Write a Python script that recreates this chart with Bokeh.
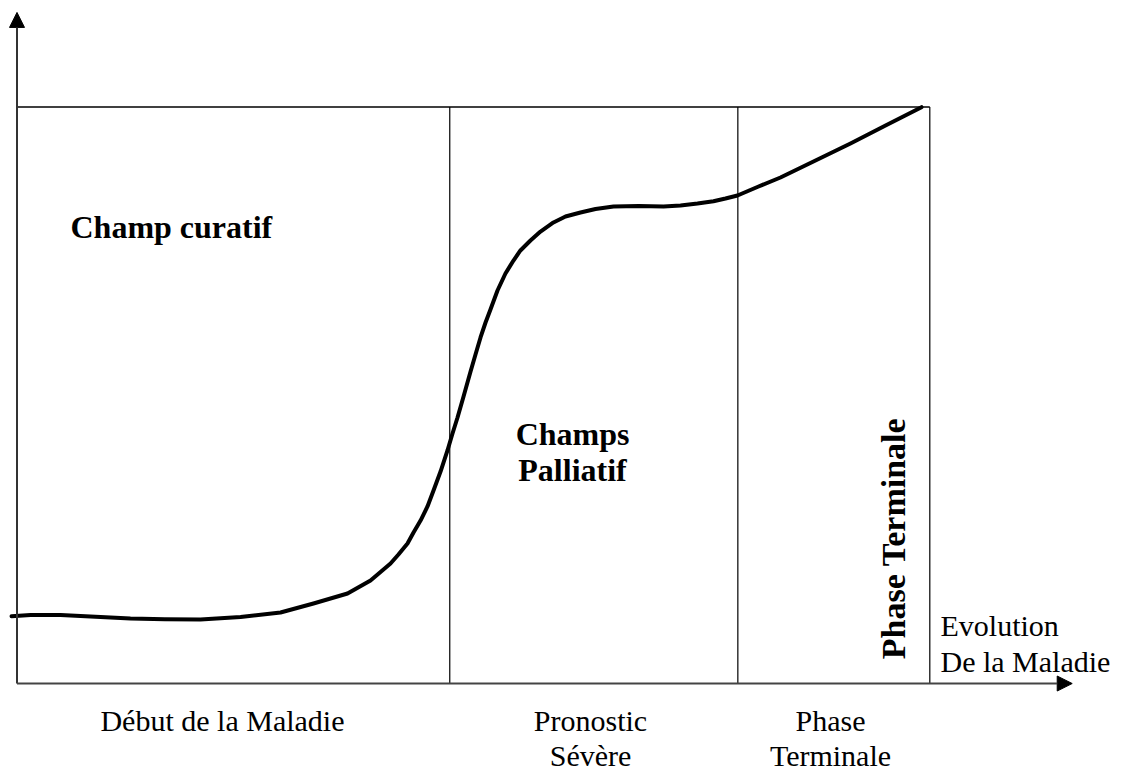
import math
from bokeh.plotting import figure
from bokeh.models import Range1d, Arrow, NormalHead, Label
from bokeh.embed import file_html
from bokeh.resources import INLINE

# ---- data (x: évolution 0..100, y: 0..100) ----
phase_bounds = [47.41, 78.97, 100.0]
box_top = 100.0

curve_x = [-0.60, 1.48, 4.77, 9.15, 12.43, 16.20, 20.10, 24.49, 28.87, 32.48, 36.21,
           38.73, 40.92, 41.79, 42.78, 43.44, 44.21, 44.97, 45.63, 46.40, 47.16,
           47.71, 48.26, 48.92, 49.68, 50.23, 50.78, 51.33, 51.87, 52.64, 53.51,
           54.39, 55.15, 56.25, 57.35, 58.77, 60.09, 61.73, 63.38, 65.35, 68.09,
           70.83, 72.69, 74.55, 76.30, 77.62, 78.93, 81.24, 83.64, 87.48, 91.31,
           95.15, 99.09]
curve_y = [11.67, 11.88, 11.88, 11.54, 11.27, 11.15, 11.10, 11.54, 12.32, 13.88, 15.61,
           17.87, 20.82, 22.38, 24.28, 26.19, 28.27, 30.71, 33.48, 36.77, 40.42,
           43.37, 46.14, 49.78, 54.08, 57.07, 60.02, 62.62, 64.87, 68.17, 71.12,
           73.37, 75.11, 76.84, 78.40, 79.97, 81.01, 81.70, 82.31, 82.74, 82.83,
           82.74, 82.91, 83.26, 83.66, 84.13, 84.65, 86.21, 87.77, 90.72, 93.67,
           96.79, 99.97]

region_labels = ["Champ curatif", "Champs", "Palliatif"]
vertical_label = "Phase Terminale"
axis_label_lines = ["Evolution", "De la Maladie"]
stage_labels = [["Début de la Maladie"], ["Pronostic", "Sévère"], ["Phase", "Terminale"]]

SERIF = "Liberation Serif"

p = figure(width=1122, height=771,
           x_range=Range1d(-1.808, 121.11), y_range=Range1d(-15.26, 118.47),
           x_axis_type=None, y_axis_type=None,
           toolbar_location=None, output_backend="svg", min_border=0)
p.outline_line_color = None
p.background_fill_color = "white"

# box: top line and phase dividers
p.segment(x0=[0], y0=[box_top], x1=[phase_bounds[-1]], y1=[box_top],
          line_color="black", line_width=1.3)
p.segment(x0=phase_bounds, y0=[0] * len(phase_bounds), x1=phase_bounds,
          y1=[box_top] * len(phase_bounds), line_color="black", line_width=1.2)

# axes with arrows
p.add_layout(Arrow(end=NormalHead(size=15, fill_color="black", line_color="black"),
                   x_start=0, y_start=0, x_end=0, y_end=116.4,
                   line_color="#333333", line_width=2))
p.add_layout(Arrow(end=NormalHead(size=15, fill_color="black", line_color="black"),
                   x_start=0, y_start=0, x_end=115.6, y_end=0,
                   line_color="#444444", line_width=2))

# curve
p.line(curve_x, curve_y, line_color="black", line_width=4, line_join="round",
       line_cap="round")


def lab(x, y, txt, size, bold=False, align="left", angle=0.0):
    p.add_layout(Label(x=x, y=y, text=txt, text_font=SERIF,
                       text_font_style="bold" if bold else "normal",
                       text_font_size=size, text_color="black", angle=angle,
                       text_align=align, text_baseline="alphabetic"))


# bold region labels
lab(5.86, 79.27, region_labels[0], "32px", bold=True)
lab(60.86, 43.36, region_labels[1], "32px", bold=True, align="center")
lab(60.86, 37.12, region_labels[2], "32px", bold=True, align="center")
lab(96.03, 25.15, vertical_label, "34px", bold=True, align="center", angle=math.pi / 2)

# x-axis label
for txt, yy in zip(axis_label_lines, [10.06, 3.81]):
    lab(101.17, yy, txt, "30px")

# stage labels below axis
stage_x = [22.51, 62.83, 89.12]
line_y = [-6.40, -12.40]
for xx, lines in zip(stage_x, stage_labels):
    for txt, yy in zip(lines, line_y):
        lab(xx, yy, txt, "30px", align="center")

open("out.html", "w").write(file_html(p, INLINE))
